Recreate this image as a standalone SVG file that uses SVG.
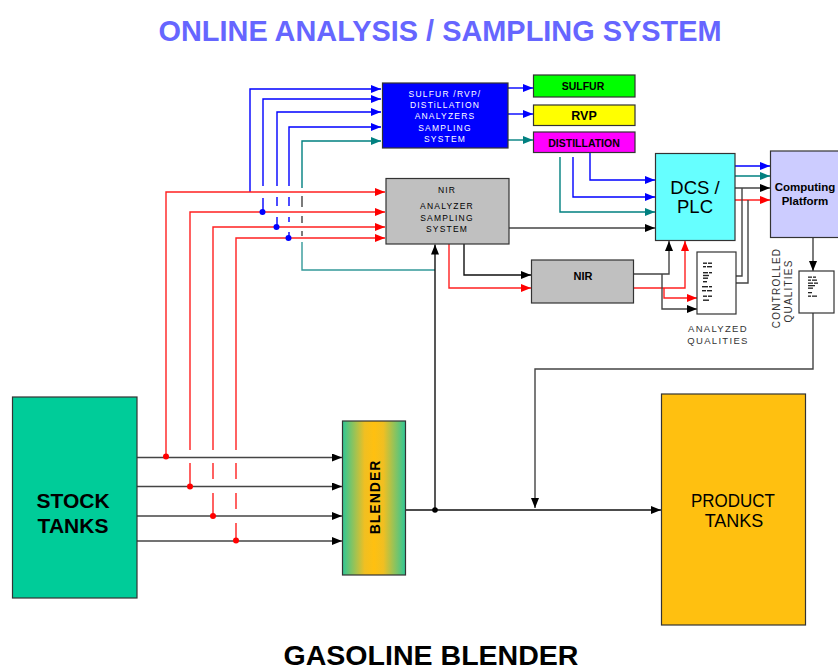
<svg xmlns="http://www.w3.org/2000/svg" width="838" height="671" viewBox="0 0 838 671">
  <style>
    .box { stroke: #333333; stroke-width: 1.2; }
    .t { font-family: "Liberation Sans", Arial, sans-serif; fill: #000; text-anchor: middle; }
    .b { font-weight: bold; }
    .small { font-size: 8.5px; letter-spacing: 1.2px; }
    .ln { fill: none; stroke-width: 1.4; }
    .k { stroke: #444444; }
    .r { stroke: #ff2020; }
    .bl { stroke: #0000ff; }
    .tl { stroke: #008080; }
    .mark { fill: #222; }
  </style>
  <defs>
    <marker id="ak" markerUnits="userSpaceOnUse" markerWidth="11" markerHeight="9" refX="10" refY="4" orient="auto"><path d="M0,0 L10,4 L0,8 z" fill="#000"/></marker>
    <marker id="ar" markerUnits="userSpaceOnUse" markerWidth="11" markerHeight="9" refX="10" refY="4" orient="auto"><path d="M0,0 L10,4 L0,8 z" fill="#ff0000"/></marker>
    <marker id="ab" markerUnits="userSpaceOnUse" markerWidth="11" markerHeight="9" refX="10" refY="4" orient="auto"><path d="M0,0 L10,4 L0,8 z" fill="#0000ff"/></marker>
    <marker id="at" markerUnits="userSpaceOnUse" markerWidth="11" markerHeight="9" refX="10" refY="4" orient="auto"><path d="M0,0 L10,4 L0,8 z" fill="#008080"/></marker>
    <linearGradient id="blendFill" x1="0" y1="0" x2="1" y2="0">
      <stop offset="0" stop-color="#2fc796"/>
      <stop offset="0.35" stop-color="#f0bf22"/>
      <stop offset="0.5" stop-color="#ffc010"/>
      <stop offset="0.65" stop-color="#f0bf22"/>
      <stop offset="1" stop-color="#2fc796"/>
    </linearGradient>
  </defs>

  <rect width="838" height="671" fill="#ffffff"/>

  <!-- titles -->
  <text class="t b" x="440" y="41" font-size="30" style="fill:#6666ff" textLength="563" lengthAdjust="spacingAndGlyphs">ONLINE ANALYSIS / SAMPLING SYSTEM</text>
  <text class="t b" x="431" y="665" font-size="27" textLength="295" lengthAdjust="spacingAndGlyphs">GASOLINE BLENDER</text>

  <!-- connectors -->
  <g id="connectors">
    <!-- feeds to the sulfur / RVP / distillation sampling system -->
    <path class="ln bl" d="M250,192 V89 H381" marker-end="url(#ab)"/>
    <path class="ln bl" d="M263,186 V99 H381" marker-end="url(#ab)"/>
    <path class="ln bl" d="M263,198 V212"/>
    <path class="ln bl" d="M277,186 V112 H381" marker-end="url(#ab)"/>
    <path class="ln bl" d="M277,197 V206 M277,217 V227"/>
    <path class="ln bl" d="M289,186 V127 H381" marker-end="url(#ab)"/>
    <path class="ln bl" d="M289,197 V206 M289,217 V222 M289,232 V238"/>
    <path class="ln tl" d="M302,188 V141 H381" marker-end="url(#at)"/>
    <path class="ln k" d="M302,196 V207 M302,216 V223 M302,231 V236"/>
    <path class="ln tl" style="stroke:#339999" d="M302,242 V270 H435"/>

    <!-- feeds to the NIR analyzer sampling system -->
    <path class="ln r" d="M166,456 V192 H385" marker-end="url(#ar)"/>
    <path class="ln r" d="M190,486 V463 M190,450 V212 H385" marker-end="url(#ar)"/>
    <path class="ln r" d="M213,516 V493 M213,479 V463 M213,450 V227 H385" marker-end="url(#ar)"/>
    <path class="ln r" d="M236,540 V523 M236,509 V493 M236,479 V463 M236,450 V238 H385" marker-end="url(#ar)"/>

    <!-- stock tanks to blender -->
    <path class="ln k" d="M137,457.5 H342" marker-end="url(#ak)"/>
    <path class="ln k" d="M137,486.5 H342" marker-end="url(#ak)"/>
    <path class="ln k" d="M137,516 H342" marker-end="url(#ak)"/>
    <path class="ln k" d="M137,541 H342" marker-end="url(#ak)"/>

    <!-- blender outlet -->
    <path class="ln" stroke="#111" d="M405,510 H661" marker-end="url(#ak)"/>
    <path class="ln" stroke="#111" d="M435,510 V244.5" marker-end="url(#ak)"/>
    <path class="ln k" d="M813,313 V369 H535 V508" marker-end="url(#ak)"/>
    <path class="ln k" d="M813,237 V271" marker-end="url(#ak)"/>

    <!-- NIR sampling system outputs -->
    <path class="ln k" d="M509,228 H655" marker-end="url(#ak)"/>
    <path class="ln" stroke="#111" d="M464,244 V275 H531" marker-end="url(#ak)"/>
    <path class="ln r" d="M449,244 V288 H531" marker-end="url(#ar)"/>

    <!-- NIR analyzer outputs -->
    <path class="ln k" d="M633,274 H669 V241" marker-end="url(#ak)"/>
    <path class="ln r" d="M633,288 H685 V241" marker-end="url(#ar)"/>
    <path class="ln k" d="M662,274 V309 H697" marker-end="url(#ak)"/>
    <path class="ln r" d="M664,288 V298 H697" marker-end="url(#ar)"/>

    <!-- analyzer results -->
    <path class="ln bl" d="M508,88 H533" marker-end="url(#ab)"/>
    <path class="ln bl" d="M508,114 H533" marker-end="url(#ab)"/>
    <path class="ln tl" d="M508,140 H533" marker-end="url(#at)"/>

    <!-- into the DCS / PLC -->
    <path class="ln bl" d="M590,152 V180 H655" marker-end="url(#ab)"/>
    <path class="ln bl" d="M573,157 V197 H655" marker-end="url(#ab)"/>
    <path class="ln tl" d="M560,157 V212 H655" marker-end="url(#at)"/>

    <!-- DCS / PLC to computing platform -->
    <path class="ln bl" d="M735,166 H770" marker-end="url(#ab)"/>
    <path class="ln tl" d="M735,176 H770" marker-end="url(#at)"/>
    <path class="ln k" d="M735,188 H770" marker-end="url(#ak)"/>
    <path class="ln r" d="M735,200 H770" marker-end="url(#ar)"/>
    <path class="ln k" d="M736,276 H742 V188"/>
    <path class="ln k" d="M736,283 H748 V200"/>

    <!-- junction dots -->
    <g fill="#0000ff">
      <circle cx="262.5" cy="212" r="3"/>
      <circle cx="276.5" cy="227" r="3"/>
      <circle cx="288.5" cy="238" r="3"/>
    </g>
    <g fill="#ff0000">
      <circle cx="166" cy="456.5" r="3"/>
      <circle cx="190" cy="486.5" r="3"/>
      <circle cx="213" cy="516" r="3"/>
      <circle cx="236" cy="540.5" r="3"/>
    </g>
    <circle cx="435" cy="510" r="2.8" fill="#000"/>
  </g>

  <!-- nodes -->
  <g id="stock-tanks">
    <rect class="box" x="12.5" y="397" width="124.5" height="201" fill="#00cc99"/>
    <text class="t b" x="73" y="508" font-size="21">STOCK</text>
    <text class="t b" x="73" y="533" font-size="21">TANKS</text>
  </g>

  <g id="blender">
    <rect class="box" x="342.5" y="421" width="63" height="154" fill="url(#blendFill)"/>
    <text class="t b" transform="translate(379.5,497) rotate(-90)" x="0" y="0" font-size="14" letter-spacing="1">BLENDER</text>
  </g>

  <g id="product-tanks">
    <rect class="box" x="661.5" y="394" width="144" height="231" fill="#ffc010"/>
    <text class="t" x="733" y="507" font-size="18" textLength="84" lengthAdjust="spacingAndGlyphs">PRODUCT</text>
    <text class="t" x="734" y="527" font-size="18">TANKS</text>
  </g>

  <g id="analyzer-sampling">
    <rect class="box" x="382.5" y="83" width="125.5" height="65" fill="#0000ff"/>
    <g class="t small">
      <text x="445" y="97" style="fill:#fff">SULFUR /RVP/</text>
      <text x="445" y="108" style="fill:#fff">DISTiLLATION</text>
      <text x="445" y="119" style="fill:#fff">ANALYZERS</text>
      <text x="445" y="130.5" style="fill:#fff">SAMPLING</text>
      <text x="445" y="142" style="fill:#fff">SYSTEM</text>
    </g>
  </g>

  <g id="sulfur">
    <rect class="box" x="533.5" y="75" width="101.5" height="22" fill="#00ff00"/>
    <text class="t b" x="583" y="90" font-size="10.5">SULFUR</text>
  </g>
  <g id="rvp">
    <rect class="box" x="533.5" y="105" width="101.5" height="20.5" fill="#ffff00"/>
    <text class="t b" x="584" y="120" font-size="12.5">RVP</text>
  </g>
  <g id="distillation">
    <rect class="box" x="533.5" y="132" width="101.5" height="20.5" fill="#ff00ff"/>
    <text class="t b" x="584" y="146.5" font-size="10.5">DISTILLATION</text>
  </g>

  <g id="nir-sampling">
    <rect class="box" x="386" y="178.5" width="123" height="65.5" fill="#c0c0c0"/>
    <g class="t small">
      <text x="447" y="193">NIR</text>
      <text x="447" y="208.5">ANALYZER</text>
      <text x="447" y="220.5">SAMPLING</text>
      <text x="447" y="232">SYSTEM</text>
    </g>
  </g>

  <g id="nir">
    <rect class="box" x="531.5" y="260" width="102" height="43" fill="#c0c0c0"/>
    <text class="t b" x="583" y="280" font-size="11">NIR</text>
  </g>

  <g id="dcs-plc">
    <rect class="box" x="655.5" y="153.5" width="79.5" height="87" fill="#66ffff"/>
    <text class="t" x="695" y="194" font-size="18.5">DCS /</text>
    <text class="t" x="695" y="213" font-size="18.5">PLC</text>
  </g>

  <g id="computing-platform">
    <rect class="box" x="770.5" y="151" width="72" height="86.5" fill="#ccccff"/>
    <text class="t b" x="805" y="191" font-size="11.5">Computing</text>
    <text class="t b" x="805" y="205" font-size="11.5">Platform</text>
  </g>

  <!-- unreadably small listing inside the quality sheets, drawn as blocks -->
  <g id="analyzed-qualities">
    <rect class="box" x="697" y="252" width="39" height="62" fill="#ffffff"/>
    <g class="mark">
      <rect x="703" y="262.5" width="4" height="1.4"/><rect x="708" y="262.5" width="4" height="1.4"/>
      <rect x="703" y="266" width="3" height="1.4"/><rect x="707" y="266" width="5" height="1.4"/>
      <rect x="703" y="272" width="5" height="1.4"/><rect x="709" y="272" width="3" height="1.4"/>
      <rect x="703" y="274.8" width="6" height="1.4"/>
      <rect x="703" y="277.5" width="5" height="1.4"/>
      <rect x="703" y="281" width="4" height="1.4"/>
      <rect x="702" y="286" width="6" height="1.4"/><rect x="709" y="286" width="3" height="1.4"/>
      <rect x="702" y="290" width="4" height="1.4"/><rect x="707" y="290" width="5" height="1.4"/>
      <rect x="703" y="295.5" width="4" height="1.4"/><rect x="708" y="295.5" width="4" height="1.4"/>
      <rect x="703" y="299.5" width="6" height="1.4"/>
    </g>
    <g class="t" style="font-size:9.5px; letter-spacing:1.3px">
      <text x="718" y="332" style="fill:#333">ANALYZED</text>
      <text x="718" y="343.5" style="fill:#333">QUALITIES</text>
    </g>
  </g>

  <g id="controlled-qualities">
    <rect class="box" x="799" y="271" width="35" height="42" fill="#ffffff"/>
    <g class="mark">
      <rect x="808" y="276.5" width="4" height="1.3"/><rect x="813" y="276.5" width="3" height="1.3"/>
      <rect x="808" y="279.5" width="3" height="1.3"/><rect x="812" y="279.5" width="5" height="1.3"/>
      <rect x="808" y="282.5" width="5" height="1.3"/><rect x="814" y="282.5" width="4" height="1.3"/>
      <rect x="808" y="285" width="7" height="1.3"/>
      <rect x="808" y="287.5" width="5" height="1.3"/>
      <rect x="808" y="292" width="4" height="1.3"/>
      <rect x="808" y="295.5" width="3" height="1.3"/><rect x="812" y="295.5" width="5" height="1.3"/>
    </g>
    <g class="t" style="font-size:10px; letter-spacing:1.2px">
      <text transform="translate(780,288) rotate(-90)" style="fill:#333">CONTROLLED</text>
      <text transform="translate(792,291) rotate(-90)" style="fill:#333">QUALITIES</text>
    </g>
  </g>
</svg>
